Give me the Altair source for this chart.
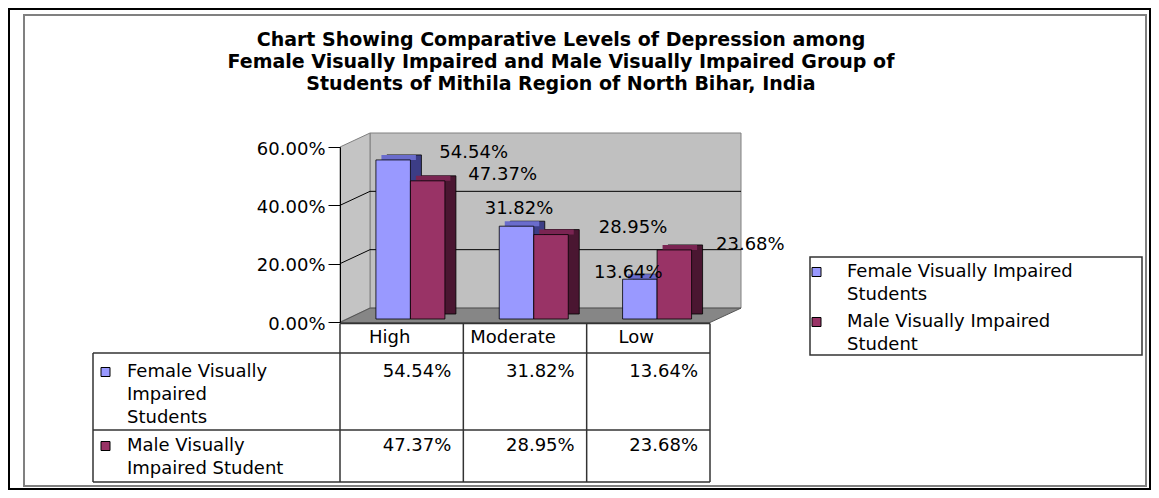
import altair as alt
import pandas as pd

# ---------------- data ----------------
CATEGORIES = ["High", "Moderate", "Low"]
SERIES = ["Female Visually Impaired Students", "Male Visually Impaired Student"]
FEMALE_PCT = [54.54, 31.82, 13.64]
MALE_PCT = [47.37, 28.95, 23.68]
Y_TICKS = [0, 0.2, 0.4, 0.6]
TITLE_LINES = [
    "Chart Showing  Comparative Levels of Depression among",
    "Female Visually Impaired and Male Visually Impaired Group of",
    "Students of Mithila Region of North Bihar, India",
]
LEGEND_LINES = [["Female Visually Impaired", "Students"], ["Male Visually Impaired", "Student"]]
TABLE_LINES = [["Female Visually", "Impaired", "Students"], ["Male Visually", "Impaired  Student"]]

records = []
for s, vals in zip(SERIES, [FEMALE_PCT, MALE_PCT]):
    for c, v in zip(CATEGORIES, vals):
        records.append({"category": c, "series": s, "pct": v})
df = pd.DataFrame(records)
grid_df = pd.DataFrame({"t": [t for t in Y_TICKS if 0 < t < max(Y_TICKS)]})

# ---------------- style ----------------
FONT = "DejaVu Sans"
FS = 18
W, H = 370, 175
WALL_DX, WALL_DY = 30, -14
BAR_W = 34.5
BAR_SHIFT = [-8.5, 26]
BAR_LIFT = -3
BAR_DX, BAR_DY = 11, -5
FRONT = ["#9999ff", "#993366"]
TOP = ["#6a6ccc", "#7a2452"]
SIDE = ["#3c3d86", "#4a1631"]
LABEL_SHIFT = [
    [(72, -10), (-6, -20), (-20, -9)],
    [(101, -9), (108, -10), (102, -8)],
]
LINE = "#333333"

base = alt.Chart(df).transform_calculate(frac="datum.pct / 100")
one = pd.DataFrame({"a": [1]})

x_enc = alt.X("category:N", sort=CATEGORIES,
              scale=alt.Scale(domain=CATEGORIES, paddingInner=0, paddingOuter=0),
              axis=None)
y_scale = alt.Scale(domain=[0, 0.6], nice=False, zero=True)
y_axis = alt.Axis(values=Y_TICKS, format=".2%", grid=False, domainColor="black",
                  tickColor="black", tickSize=12, labelFont=FONT, labelFontSize=FS,
                  labelColor="black", labelPadding=3, labelOffset=2, title=None, zindex=1)


def yq(field):
    return alt.Y(field, scale=y_scale, axis=y_axis, title=None)


y_plain = yq("frac:Q")

layers = []


def deco():
    return alt.Chart(one)


# outer frames
layers.append(deco().mark_rect(fill="white", fillOpacity=0, stroke="black", strokeWidth=2).encode(
    x=alt.value(-331), x2=alt.value(810), y=alt.value(-138), y2=alt.value(342)))
layers.append(deco().mark_rect(fill="white", fillOpacity=0, stroke="#808080", strokeWidth=2).encode(
    x=alt.value(-316), x2=alt.value(806), y=alt.value(-132), y2=alt.value(339)))

# title
for i, line in enumerate(TITLE_LINES):
    layers.append(deco().mark_text(font=FONT, fontSize=19, fontWeight="bold", align="center",
                                   baseline="alphabetic", color="black").encode(
        x=alt.value(221), y=alt.value(-101 + 22 * i), text=alt.value(line)))

# back wall
layers.append(deco().mark_rect(fill="#c0c0c0", stroke="#808080", strokeWidth=1).encode(
    x=alt.value(WALL_DX), x2=alt.value(W + WALL_DX + 1),
    y=alt.value(WALL_DY), y2=alt.value(H + WALL_DY)))
# left wall (parallelogram)
layers.append(deco().mark_point(
    shape="M-0.15,-0.805L0.15,-0.945L0.15,0.805L-0.15,0.945Z", size=40000, filled=True,
    fill="#c4c4c4", stroke="#808080", strokeWidth=1, opacity=1).encode(
    x=alt.value(15), y=alt.value(80.5)))
# floor (parallelogram)
layers.append(deco().mark_point(
    shape="M-1,0.036L0.85,0.036L1.005,-0.036L-0.85,-0.036Z", size=160000, filled=True,
    fill="#868686", stroke="#555555", strokeWidth=1, opacity=1).encode(
    x=alt.value(200), y=alt.value(168.3)))
# back wall gridlines
layers.append(alt.Chart(grid_df).mark_rule(color="black", strokeWidth=1, yOffset=WALL_DY).encode(
    x=alt.value(WALL_DX), x2=alt.value(W + WALL_DX + 1), y=yq("t:Q")))
# left wall gridlines
layers.append(alt.Chart(grid_df).mark_rule(color="black", strokeWidth=1, y2Offset=WALL_DY).encode(
    x=alt.value(0), x2=alt.value(WALL_DX), y=yq("t:Q"), y2=alt.Y2("t:Q")))

# bars: back blocks, top faces, fronts
for si in range(2):
    sub = base.transform_filter(alt.datum.series == SERIES[si])
    layers.append(sub.mark_bar(width=BAR_W, xOffset=BAR_SHIFT[si] + BAR_DX,
                               yOffset=BAR_LIFT + BAR_DY, y2Offset=BAR_LIFT + BAR_DY,
                               fill=SIDE[si], stroke="black", strokeWidth=0.8).encode(
        x=x_enc, y=y_plain))
for si in range(2):
    sub = base.transform_filter(alt.datum.series == SERIES[si])
    layers.append(sub.mark_bar(width=BAR_W, xOffset=BAR_SHIFT[si] + BAR_DX / 2,
                               yOffset=BAR_LIFT + BAR_DY, y2Offset=BAR_LIFT,
                               fill=TOP[si]).encode(
        x=x_enc, y=y_plain, y2=alt.Y2("frac:Q")))
for si in range(2):
    sub = base.transform_filter(alt.datum.series == SERIES[si])
    layers.append(sub.mark_bar(width=BAR_W, xOffset=BAR_SHIFT[si],
                               yOffset=BAR_LIFT, y2Offset=BAR_LIFT,
                               fill=FRONT[si], stroke="black", strokeWidth=0.8).encode(
        x=x_enc, y=y_plain))

# value labels
for si in range(2):
    for ci, cat in enumerate(CATEGORIES):
        dx, dy = LABEL_SHIFT[si][ci]
        sub = base.transform_filter((alt.datum.series == SERIES[si]) & (alt.datum.category == cat))
        layers.append(sub.mark_text(font=FONT, fontSize=FS, align="center", baseline="middle",
                                    color="black", dx=dx, dy=dy).encode(
            x=x_enc, y=y_plain, text=alt.Text("frac:Q", format=".2%")))

# data table lines
for y0, xl in [(176.5, 0), (206, -247), (283, -247), (335, -247)]:
    layers.append(deco().mark_rule(color=LINE, strokeWidth=1.5).encode(
        x=alt.value(xl), x2=alt.value(W), y=alt.value(y0)))
for x0, yt in [(-247, 206), (0, 176.5), (W / 3, 176.5), (2 * W / 3, 176.5), (W, 176.5)]:
    layers.append(deco().mark_rule(color=LINE, strokeWidth=1.5).encode(
        x=alt.value(x0), y=alt.value(yt), y2=alt.value(335)))

# table header
layers.append(base.transform_filter(alt.datum.series == SERIES[0]).mark_text(
    font=FONT, fontSize=FS, align="center", baseline="middle", color="black", dx=-12).encode(
    x=x_enc, y=alt.value(191), text="category:N"))
# table values
ROW_Y = [225, 299]
for si in range(2):
    layers.append(base.transform_filter(alt.datum.series == SERIES[si]).mark_text(
        font=FONT, fontSize=FS, align="right", baseline="middle", color="black", dx=W / 6 - 12).encode(
        x=x_enc, y=alt.value(ROW_Y[si]), text=alt.Text("frac:Q", format=".2%")))
# table row labels
for si in range(2):
    sy = ROW_Y[si]
    layers.append(deco().mark_rect(fill=FRONT[si], stroke="black", strokeWidth=1).encode(
        x=alt.value(-239), x2=alt.value(-230), y=alt.value(sy - 4.5), y2=alt.value(sy + 4.5)))
    for li, txt in enumerate(TABLE_LINES[si]):
        layers.append(deco().mark_text(font=FONT, fontSize=FS, align="left", baseline="middle",
                                       color="black").encode(
            x=alt.value(-213), y=alt.value(sy + 23 * li), text=alt.value(txt)))

# legend
layers.append(deco().mark_rect(fill="white", stroke=LINE, strokeWidth=1.5).encode(
    x=alt.value(470), x2=alt.value(802), y=alt.value(110), y2=alt.value(208)))
LEG_Y = [125, 175]
for si in range(2):
    sy = LEG_Y[si]
    layers.append(deco().mark_rect(fill=FRONT[si], stroke="black", strokeWidth=1).encode(
        x=alt.value(472), x2=alt.value(481), y=alt.value(sy - 4.5), y2=alt.value(sy + 4.5)))
    for li, txt in enumerate(LEGEND_LINES[si]):
        layers.append(deco().mark_text(font=FONT, fontSize=FS, align="left", baseline="middle",
                                       color="black").encode(
            x=alt.value(507), y=alt.value(sy + 23 * li), text=alt.value(txt)))

chart = alt.layer(*layers).properties(
    width=W, height=H,
    padding={"left": 332, "top": 139, "right": 441, "bottom": 168},
    autosize=alt.AutoSizeParams(type="none"),
    background="white",
).configure_view(stroke=None)

chart.save("out.html", embed_options={"renderer": "svg", "actions": False})
